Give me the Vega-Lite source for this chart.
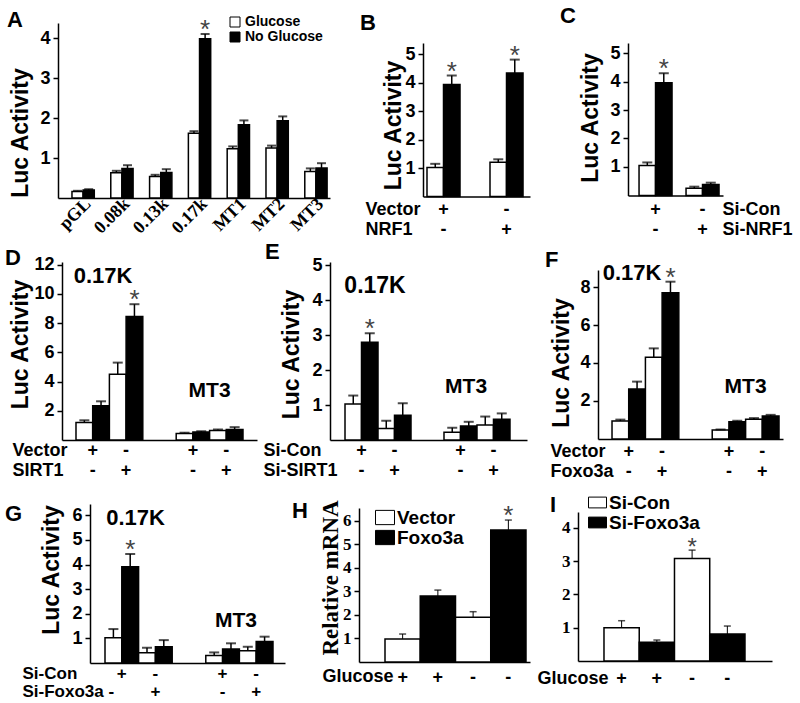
{
 "$schema": "https://vega.github.io/schema/vega-lite/v6.json",
 "padding": {"left": 5, "top": 5, "right": 0, "bottom": 0},
 "background": "white",
 "columns": 3,
 "align": "each",
 "bounds": "flush",
 "spacing": {"row": 64, "column": 0},
 "resolve": {"scale": {"fill": "independent", "x": "independent", "y": "independent", "xOffset": "independent"}, "legend": {"fill": "independent"}},
 "config": {
  "font": "Liberation Sans",
  "view": {"stroke": null},
  "axis": {"labelFont": "Liberation Sans", "titleFont": "Liberation Sans", "labelFontWeight": "bold", "titleFontWeight": "bold", "labelColor": "black", "titleColor": "black", "domainColor": "black", "tickColor": "black", "grid": false, "labelOverlap": false},
  "axisX": {"ticks": false, "domainWidth": 1.5, "labelAngle": 0, "labelFontSize": 18, "titleFontSize": 18, "labelBaseline": "alphabetic", "titleBaseline": "alphabetic", "titleAlign": "left", "titleAngle": 0, "labelLineHeight": 20, "titleLineHeight": 20, "labelOverlap": false},
  "axisY": {"tickSize": 5, "tickWidth": 1.5, "domainWidth": 1.5, "labelFontSize": 18, "labelPadding": 3, "titleFontSize": 23, "titleAngle": 270, "titleAlign": "center", "titleBaseline": "middle", "labelOverlap": false, "tickCount": 50},
  "title": {"font": "Liberation Sans", "fontSize": 22, "fontWeight": "bold", "anchor": "start", "frame": "group", "baseline": "alphabetic", "offset": 0, "color": "black"},
  "legend": {"labelFont": "Liberation Sans", "labelFontWeight": "bold", "labelColor": "black", "padding": 0, "symbolStrokeColor": "black", "symbolStrokeWidth": 1, "rowPadding": 0, "labelOffset": 3, "symbolOffset": 0, "orient": "none", "title": null}
 },
 "datasets": {
  "A": [
   {"p": "pGL", "g": "Glucose", "v": 0.16, "hi": 0.18, "s": ""},
   {"p": "pGL", "g": "No Glucose", "v": 0.2, "hi": 0.22, "s": ""},
   {"p": "0.08k", "g": "Glucose", "v": 0.63, "hi": 0.68, "s": ""},
   {"p": "0.08k", "g": "No Glucose", "v": 0.74, "hi": 0.82, "s": ""},
   {"p": "0.13k", "g": "Glucose", "v": 0.54, "hi": 0.58, "s": ""},
   {"p": "0.13k", "g": "No Glucose", "v": 0.64, "hi": 0.72, "s": ""},
   {"p": "0.17k", "g": "Glucose", "v": 1.62, "hi": 1.67, "s": ""},
   {"p": "0.17k", "g": "No Glucose", "v": 3.98, "hi": 4.1, "s": "*"},
   {"p": "MT1", "g": "Glucose", "v": 1.23, "hi": 1.29, "s": ""},
   {"p": "MT1", "g": "No Glucose", "v": 1.83, "hi": 1.94, "s": ""},
   {"p": "MT2", "g": "Glucose", "v": 1.25, "hi": 1.31, "s": ""},
   {"p": "MT2", "g": "No Glucose", "v": 1.93, "hi": 2.04, "s": ""},
   {"p": "MT3", "g": "Glucose", "v": 0.66, "hi": 0.74, "s": ""},
   {"p": "MT3", "g": "No Glucose", "v": 0.75, "hi": 0.87, "s": ""}
  ],
  "B": [
   {"p": "b1|+|-", "g": "Glucose", "v": 1.02, "hi": 1.15, "s": ""},
   {"p": "b1|+|-", "g": "No Glucose", "v": 3.94, "hi": 4.26, "s": "*"},
   {"p": "b2|-|+", "g": "Glucose", "v": 1.21, "hi": 1.31, "s": ""},
   {"p": "b2|-|+", "g": "No Glucose", "v": 4.35, "hi": 4.82, "s": "*"}
  ],
  "C": [
   {"p": "c1|+|-", "g": "Glucose", "v": 1.05, "hi": 1.16, "s": ""},
   {"p": "c1|+|-", "g": "No Glucose", "v": 3.96, "hi": 4.29, "s": "*"},
   {"p": "c2|-|+", "g": "Glucose", "v": 0.25, "hi": 0.31, "s": ""},
   {"p": "c2|-|+", "g": "No Glucose", "v": 0.39, "hi": 0.45, "s": ""}
  ],
  "D": [
   {"p": "d1|+|-", "g": "Glucose", "v": 1.2, "hi": 1.35, "s": ""},
   {"p": "d1|+|-", "g": "No Glucose", "v": 2.35, "hi": 2.65, "s": ""},
   {"p": "d2|-|+", "g": "Glucose", "v": 4.5, "hi": 5.3, "s": ""},
   {"p": "d2|-|+", "g": "No Glucose", "v": 8.45, "hi": 9.3, "s": "*"},
   {"p": "d3|+|-", "g": "Glucose", "v": 0.45, "hi": 0.5, "s": ""},
   {"p": "d3|+|-", "g": "No Glucose", "v": 0.55, "hi": 0.6, "s": ""},
   {"p": "d4|-|+", "g": "Glucose", "v": 0.65, "hi": 0.72, "s": ""},
   {"p": "d4|-|+", "g": "No Glucose", "v": 0.72, "hi": 0.88, "s": ""}
  ],
  "E": [
   {"p": "e1|+|-", "g": "Glucose", "v": 1.03, "hi": 1.27, "s": ""},
   {"p": "e1|+|-", "g": "No Glucose", "v": 2.79, "hi": 3.05, "s": "*"},
   {"p": "e2|-|+", "g": "Glucose", "v": 0.33, "hi": 0.55, "s": ""},
   {"p": "e2|-|+", "g": "No Glucose", "v": 0.71, "hi": 1.05, "s": ""},
   {"p": "e3|+|-", "g": "Glucose", "v": 0.22, "hi": 0.35, "s": ""},
   {"p": "e3|+|-", "g": "No Glucose", "v": 0.4, "hi": 0.52, "s": ""},
   {"p": "e4|-|+", "g": "Glucose", "v": 0.43, "hi": 0.67, "s": ""},
   {"p": "e4|-|+", "g": "No Glucose", "v": 0.59, "hi": 0.76, "s": ""}
  ],
  "F": [
   {"p": "f1|+|-", "g": "Glucose", "v": 0.95, "hi": 1.02, "s": ""},
   {"p": "f1|+|-", "g": "No Glucose", "v": 2.63, "hi": 3.02, "s": ""},
   {"p": "f2|-|+", "g": "Glucose", "v": 4.3, "hi": 4.77, "s": ""},
   {"p": "f2|-|+", "g": "No Glucose", "v": 7.7, "hi": 8.28, "s": "*"},
   {"p": "f3|+|-", "g": "Glucose", "v": 0.47, "hi": 0.5, "s": ""},
   {"p": "f3|+|-", "g": "No Glucose", "v": 0.91, "hi": 0.96, "s": ""},
   {"p": "f4|-|+", "g": "Glucose", "v": 1.04, "hi": 1.1, "s": ""},
   {"p": "f4|-|+", "g": "No Glucose", "v": 1.21, "hi": 1.27, "s": ""}
  ],
  "G": [
   {"p": "g1|+|", "g": "Glucose", "v": 1.03, "hi": 1.38, "s": ""},
   {"p": "g1|+|", "g": "No Glucose", "v": 3.91, "hi": 4.43, "s": "*"},
   {"p": "g2|-|+", "g": "Glucose", "v": 0.42, "hi": 0.62, "s": ""},
   {"p": "g2|-|+", "g": "No Glucose", "v": 0.66, "hi": 0.93, "s": ""},
   {"p": "g3|+|-", "g": "Glucose", "v": 0.3, "hi": 0.43, "s": ""},
   {"p": "g3|+|-", "g": "No Glucose", "v": 0.57, "hi": 0.8, "s": ""},
   {"p": "g4|-|+", "g": "Glucose", "v": 0.5, "hi": 0.66, "s": ""},
   {"p": "g4|-|+", "g": "No Glucose", "v": 0.87, "hi": 1.07, "s": ""}
  ],
  "H": [
   {"p": "h1|+", "g": "Vector", "v": 0.98, "hi": 1.19, "s": ""},
   {"p": "h2|+", "g": "Foxo3a", "v": 2.81, "hi": 3.06, "s": ""},
   {"p": "h3|-", "g": "Vector", "v": 1.9, "hi": 2.14, "s": ""},
   {"p": "h4|-", "g": "Foxo3a", "v": 5.62, "hi": 6.04, "s": "*"}
  ],
  "I": [
   {"p": "i1|+", "g": "Si-Con", "v": 1.0, "hi": 1.21, "s": ""},
   {"p": "i2|+", "g": "Si-Foxo3a", "v": 0.56, "hi": 0.63, "s": ""},
   {"p": "i3|-", "g": "Si-Con", "v": 3.08, "hi": 3.33, "s": "*"},
   {"p": "i4|-", "g": "Si-Foxo3a", "v": 0.81, "hi": 1.05, "s": ""}
  ]
 },
 "concat": [
  {
   "width": 272, "height": 175,
   "title": {"text": "A", "dx": -51, "dy": 21},
   "data": {"name": "A"},
   "encoding": {
    "x": {"field": "p", "type": "nominal", "sort": null,
     "scale": {"domain": ["pGL", "0.08k", "0.13k", "0.17k", "MT1", "MT2", "MT3"], "paddingInner": 0.425, "paddingOuter": 0.2175, "align": 0.828},
     "axis": {"title": null, "labelAngle": -45, "labelAlign": "right", "labelBaseline": "middle", "labelFont": "Liberation Serif", "labelFontSize": 18, "labelPadding": 3, "labelOffset": 5, "labelOverlap": false}},
    "xOffset": {"field": "g", "type": "nominal", "sort": null, "scale": {"domain": ["Glucose", "No Glucose"]}}
   },
   "layer": [
    {"mark": {"type": "bar", "stroke": "black", "strokeWidth": 1.5},
     "encoding": {
      "y": {"field": "v", "type": "quantitative", "scale": {"domain": [0, 4.375], "nice": false}, "axis": {"values": [1, 2, 3, 4], "format": "d", "tickCount": 50, "labelOverlap": false, "title": "Luc Activity", "titleX": -38, "titleY": 109.5}},
      "fill": {"field": "g", "type": "nominal", "scale": {"domain": ["Glucose", "No Glucose"], "range": ["white", "black"]},
       "legend": {"orient": "none", "legendX": 170, "legendY": -8, "symbolType": "square", "symbolSize": 100, "labelFontSize": 14, "rowPadding": 1, "symbolStrokeColor": "black", "symbolStrokeWidth": 1}}}},
    {"mark": {"type": "rule", "color": "black", "strokeWidth": 1.5},
     "encoding": {"y": {"field": "v", "type": "quantitative", "scale": {"domain": [0, 4.375], "nice": false}, "title": "Luc Activity"}, "y2": {"field": "hi"}}},
    {"mark": {"type": "tick", "color": "black", "thickness": 2, "size": 9},
     "encoding": {"y": {"field": "hi", "type": "quantitative", "scale": {"domain": [0, 4.375], "nice": false}, "title": "Luc Activity"}}},
    {"mark": {"type": "text", "baseline": "alphabetic", "fontSize": 26, "color": "#444", "dy": 4},
     "encoding": {"y": {"field": "hi", "type": "quantitative", "scale": {"domain": [0, 4.375], "nice": false}, "title": "Luc Activity"}, "text": {"field": "s"}}}
   ]
  },
  {
   "width": 248, "height": 175,
   "title": {"text": "B", "dx": 30, "dy": 16},
   "data": {"name": "B"},
   "encoding": {
    "x": {"field": "p", "type": "nominal", "sort": null,
     "scale": {"domain": ["s0", "b1|+|-", "b2|-|+"], "paddingInner": 0.476, "paddingOuter": 0.706, "align": 0.382},
     "axis": {"title": ["Vector", "NRF1"], "offset": -1.5, "titleX": 35, "titleY": 17.5, "labelPadding": 17.5, "labelExpr": "indexof(datum.value, '|') < 0 ? '' : slice(split(datum.value, '|'), 1)", "domainDash": [107, 2000], "domainDashOffset": -93}},
    "xOffset": {"field": "g", "type": "nominal", "sort": null, "scale": {"domain": ["Glucose", "No Glucose"]}}
   },
   "layer": [
    {"mark": {"type": "bar", "stroke": "black", "strokeWidth": 1.5},
     "encoding": {
      "y": {"field": "v", "type": "quantitative", "scale": {"domain": [-0.053, 6.109], "nice": false}, "axis": {"values": [1, 2, 3, 4, 5], "format": "d", "tickCount": 50, "labelOverlap": false, "title": "Luc Activity", "offset": -93, "titleX": -30, "titleY": 102, "domainDash": [153.5, 1000], "domainDashOffset": -1.5}},
      "fill": {"field": "g", "type": "nominal", "scale": {"domain": ["Glucose", "No Glucose"], "range": ["white", "black"]}, "legend": null}}},
    {"mark": {"type": "rule", "color": "black", "strokeWidth": 1.5},
     "encoding": {"y": {"field": "v", "type": "quantitative", "scale": {"domain": [-0.053, 6.109], "nice": false}, "title": "Luc Activity"}, "y2": {"field": "hi"}}},
    {"mark": {"type": "tick", "color": "black", "thickness": 2, "size": 10},
     "encoding": {"y": {"field": "hi", "type": "quantitative", "scale": {"domain": [-0.053, 6.109], "nice": false}, "title": "Luc Activity"}}},
    {"mark": {"type": "text", "baseline": "alphabetic", "fontSize": 26, "color": "#444", "dy": 4},
     "encoding": {"y": {"field": "hi", "type": "quantitative", "scale": {"domain": [-0.053, 6.109], "nice": false}, "title": "Luc Activity"}, "text": {"field": "s"}}}
   ]
  },
  {
   "width": 205, "height": 175,
   "title": {"text": "C", "dx": -18, "dy": 9},
   "data": {"name": "C"},
   "encoding": {
    "x": {"field": "p", "type": "nominal", "sort": null,
     "scale": {"domain": ["s0", "c1|+|-", "c2|-|+"], "paddingInner": 0.298, "paddingOuter": 0.83, "align": 0.18},
     "axis": {"title": ["Si-Con", "Si-NRF1"], "offset": -2.5, "titleX": 144, "titleY": 18.5, "labelPadding": 18.5, "labelExpr": "indexof(datum.value, '|') < 0 ? '' : slice(split(datum.value, '|'), 1)", "domainDash": [95, 2000], "domainDashOffset": -50}},
    "xOffset": {"field": "g", "type": "nominal", "sort": null, "scale": {"domain": ["Glucose", "No Glucose"]}}
   },
   "layer": [
    {"mark": {"type": "bar", "stroke": "black", "strokeWidth": 1.5},
     "encoding": {
      "y": {"field": "v", "type": "quantitative", "scale": {"domain": [-0.088, 6.053], "nice": false}, "axis": {"values": [1, 2, 3, 4, 5], "format": "d", "tickCount": 50, "labelOverlap": false, "title": "Luc Activity", "offset": -50, "titleX": -38, "titleY": 94.5, "domainDash": [152.5, 1000], "domainDashOffset": -2.5}},
      "fill": {"field": "g", "type": "nominal", "scale": {"domain": ["Glucose", "No Glucose"], "range": ["white", "black"]}, "legend": null}}},
    {"mark": {"type": "rule", "color": "black", "strokeWidth": 1.5},
     "encoding": {"y": {"field": "v", "type": "quantitative", "scale": {"domain": [-0.088, 6.053], "nice": false}, "title": "Luc Activity"}, "y2": {"field": "hi"}}},
    {"mark": {"type": "tick", "color": "black", "thickness": 2, "size": 10},
     "encoding": {"y": {"field": "hi", "type": "quantitative", "scale": {"domain": [-0.088, 6.053], "nice": false}, "title": "Luc Activity"}}},
    {"mark": {"type": "text", "baseline": "alphabetic", "fontSize": 26, "color": "#444", "dy": 4},
     "encoding": {"y": {"field": "hi", "type": "quantitative", "scale": {"domain": [-0.088, 6.053], "nice": false}, "title": "Luc Activity"}, "text": {"field": "s"}}}
   ]
  },
  {
   "width": 272, "height": 178,
   "title": {"text": "D", "dx": -53, "dy": 18},
   "data": {"name": "D"},
   "layer": [
    {
     "encoding": {
      "x": {"field": "p", "type": "nominal", "sort": null,
       "scale": {"domain": ["d1|+|-", "d2|-|+", "gap", "d3|+|-", "d4|-|+", "s1", "s2"], "paddingInner": 0, "paddingOuter": 0.572, "align": 0.471},
       "axis": {"title": ["Vector", "SIRT1"], "titleX": -46, "titleY": 15, "labelPadding": 15, "labelExpr": "indexof(datum.value, '|') < 0 ? '' : slice(split(datum.value, '|'), 1)", "domainDash": [195, 2000], "domainDashOffset": -4}},
      "xOffset": {"field": "g", "type": "nominal", "sort": null, "scale": {"domain": ["Glucose", "No Glucose"]}}
     },
     "layer": [
      {"mark": {"type": "bar", "stroke": "black", "strokeWidth": 1.5},
       "encoding": {
        "y": {"field": "v", "type": "quantitative", "scale": {"domain": [0, 12.19], "nice": false}, "axis": {"values": [2, 4, 6, 8, 10, 12], "format": "d", "tickCount": 50, "labelOverlap": false, "title": "Luc Activity", "offset": -4, "titleX": -42, "titleY": 82}},
        "fill": {"field": "g", "type": "nominal", "scale": {"domain": ["Glucose", "No Glucose"], "range": ["white", "black"]}, "legend": null}}},
      {"mark": {"type": "rule", "color": "black", "strokeWidth": 1.5},
       "encoding": {"y": {"field": "v", "type": "quantitative", "scale": {"domain": [0, 12.19], "nice": false}, "title": "Luc Activity"}, "y2": {"field": "hi"}}},
      {"mark": {"type": "tick", "color": "black", "thickness": 2, "size": 10},
       "encoding": {"y": {"field": "hi", "type": "quantitative", "scale": {"domain": [0, 12.19], "nice": false}, "title": "Luc Activity"}}},
      {"mark": {"type": "text", "baseline": "alphabetic", "fontSize": 26, "color": "#444", "dy": 4},
       "encoding": {"y": {"field": "hi", "type": "quantitative", "scale": {"domain": [0, 12.19], "nice": false}, "title": "Luc Activity"}, "text": {"field": "s"}}}
     ]
    },
    {"data": {"values": [{"t": "0.17K"}]},
     "mark": {"type": "text", "fontSize": 22, "fontWeight": "bold", "baseline": "alphabetic", "align": "center"},
     "encoding": {"x": {"datum": "d1|+|-", "bandPosition": 0.81}, "y": {"datum": 10.75, "scale": {"domain": [0, 12.19], "nice": false}}, "text": {"field": "t"}}},
    {"data": {"values": [{"t": "MT3"}]},
     "mark": {"type": "text", "fontSize": 21, "fontWeight": "bold", "baseline": "alphabetic", "align": "center"},
     "encoding": {"x": {"datum": "d3|+|-", "bandPosition": 1}, "y": {"datum": 2.95, "scale": {"domain": [0, 12.19], "nice": false}}, "text": {"field": "t"}}}
   ]
  },
  {
   "width": 248, "height": 178,
   "title": {"text": "E", "dx": -65, "dy": 12},
   "data": {"name": "E"},
   "layer": [
    {
     "encoding": {
      "x": {"field": "p", "type": "nominal", "sort": null,
       "scale": {"domain": ["e1|+|-", "e2|-|+", "gap", "e3|+|-", "e4|-|+", "s1"], "paddingInner": 0, "paddingOuter": 0.758, "align": 0.3},
       "axis": {"title": ["Si-Con", "Si-SIRT1"], "titleX": -67, "titleY": 15, "labelPadding": 15, "labelExpr": "indexof(datum.value, '|') < 0 ? '' : slice(split(datum.value, '|'), 1)", "domainDash": [197, 2000]}},
      "xOffset": {"field": "g", "type": "nominal", "sort": null, "scale": {"domain": ["Glucose", "No Glucose"]}}
     },
     "layer": [
      {"mark": {"type": "bar", "stroke": "black", "strokeWidth": 1.5},
       "encoding": {
        "y": {"field": "v", "type": "quantitative", "scale": {"domain": [0, 5.086], "nice": false}, "axis": {"values": [1, 2, 3, 4, 5], "format": "d", "tickCount": 50, "labelOverlap": false, "title": "Luc Activity", "titleX": -39, "titleY": 92}},
        "fill": {"field": "g", "type": "nominal", "scale": {"domain": ["Glucose", "No Glucose"], "range": ["white", "black"]}, "legend": null}}},
      {"mark": {"type": "rule", "color": "black", "strokeWidth": 1.5},
       "encoding": {"y": {"field": "v", "type": "quantitative", "scale": {"domain": [0, 5.086], "nice": false}, "title": "Luc Activity"}, "y2": {"field": "hi"}}},
      {"mark": {"type": "tick", "color": "black", "thickness": 2, "size": 10},
       "encoding": {"y": {"field": "hi", "type": "quantitative", "scale": {"domain": [0, 5.086], "nice": false}, "title": "Luc Activity"}}},
      {"mark": {"type": "text", "baseline": "alphabetic", "fontSize": 26, "color": "#444", "dy": 4},
       "encoding": {"y": {"field": "hi", "type": "quantitative", "scale": {"domain": [0, 5.086], "nice": false}, "title": "Luc Activity"}, "text": {"field": "s"}}}
     ]
    },
    {"data": {"values": [{"t": "0.17K"}]},
     "mark": {"type": "text", "fontSize": 23, "fontWeight": "bold", "baseline": "alphabetic", "align": "center"},
     "encoding": {"x": {"datum": "e1|+|-", "bandPosition": 0.91}, "y": {"datum": 4.2, "scale": {"domain": [0, 5.086], "nice": false}}, "text": {"field": "t"}}},
    {"data": {"values": [{"t": "MT3"}]},
     "mark": {"type": "text", "fontSize": 21, "fontWeight": "bold", "baseline": "alphabetic", "align": "center"},
     "encoding": {"x": {"datum": "e3|+|-", "bandPosition": 0.67}, "y": {"datum": 1.34, "scale": {"domain": [0, 5.086], "nice": false}}, "text": {"field": "t"}}}
   ]
  },
  {
   "width": 205, "height": 178,
   "title": {"text": "F", "dx": -33, "dy": 14.5},
   "data": {"name": "F"},
   "layer": [
    {
     "encoding": {
      "x": {"field": "p", "type": "nominal", "sort": null,
       "scale": {"domain": ["f1|+|-", "f2|-|+", "gap", "f3|+|-", "f4|-|+"], "paddingInner": 0, "paddingOuter": 0.569, "align": 0.895},
       "axis": {"title": ["Vector", "Foxo3a"], "offset": -1, "titleX": -28, "titleY": 17, "labelPadding": 17, "labelExpr": "indexof(datum.value, '|') < 0 ? '' : slice(split(datum.value, '|'), 1)", "domainDash": [185, 2000], "domainDashOffset": -20}},
      "xOffset": {"field": "g", "type": "nominal", "sort": null, "scale": {"domain": ["Glucose", "No Glucose"]}}
     },
     "layer": [
      {"mark": {"type": "bar", "stroke": "black", "strokeWidth": 1.5},
       "encoding": {
        "y": {"field": "v", "type": "quantitative", "scale": {"domain": [-0.053, 9.316], "nice": false}, "axis": {"values": [2, 4, 6, 8], "format": "d", "tickCount": 50, "labelOverlap": false, "title": "Luc Activity", "offset": -20, "titleX": -37, "titleY": 100.5, "domainDash": [169, 1000], "domainDashOffset": -1}},
        "fill": {"field": "g", "type": "nominal", "scale": {"domain": ["Glucose", "No Glucose"], "range": ["white", "black"]}, "legend": null}}},
      {"mark": {"type": "rule", "color": "black", "strokeWidth": 1.5},
       "encoding": {"y": {"field": "v", "type": "quantitative", "scale": {"domain": [-0.053, 9.316], "nice": false}, "title": "Luc Activity"}, "y2": {"field": "hi"}}},
      {"mark": {"type": "tick", "color": "black", "thickness": 2, "size": 10},
       "encoding": {"y": {"field": "hi", "type": "quantitative", "scale": {"domain": [-0.053, 9.316], "nice": false}, "title": "Luc Activity"}}},
      {"mark": {"type": "text", "baseline": "alphabetic", "fontSize": 26, "color": "#444", "dy": 4},
       "encoding": {"y": {"field": "hi", "type": "quantitative", "scale": {"domain": [-0.053, 9.316], "nice": false}, "title": "Luc Activity"}, "text": {"field": "s"}}}
     ]
    },
    {"data": {"values": [{"t": "0.17K"}]},
     "mark": {"type": "text", "fontSize": 22, "fontWeight": "bold", "baseline": "alphabetic", "align": "center"},
     "encoding": {"x": {"datum": "f1|+|-", "bandPosition": 0.6}, "y": {"datum": 8.37, "scale": {"domain": [-0.053, 9.316], "nice": false}}, "text": {"field": "t"}}},
    {"data": {"values": [{"t": "MT3"}]},
     "mark": {"type": "text", "fontSize": 21, "fontWeight": "bold", "baseline": "alphabetic", "align": "center"},
     "encoding": {"x": {"datum": "f3|+|-", "bandPosition": 1}, "y": {"datum": 2.42, "scale": {"domain": [-0.053, 9.316], "nice": false}}, "text": {"field": "t"}}}
   ]
  },
  {
   "width": 272, "height": 159,
   "title": {"text": "G", "dx": -53, "dy": 26},
   "data": {"name": "G"},
   "layer": [
    {
     "encoding": {
      "x": {"field": "p", "type": "nominal", "sort": null,
       "scale": {"domain": ["s0", "g1|+|", "g2|-|+", "gap", "g3|+|-", "g4|-|+", "s1"], "paddingInner": 0, "paddingOuter": 0.548, "align": 0.364},
       "axis": {"title": ["Si-Con", "Si-Foxo3a -"], "titleX": -36, "titleY": 15, "labelPadding": 15, "titleFontSize": 17, "labelFontSize": 17, "titleLineHeight": 18, "labelLineHeight": 18, "labelExpr": "indexof(datum.value, '|') < 0 ? '' : slice(split(datum.value, '|'), 1)", "domainDash": [195, 2000], "domainDashOffset": -32}},
      "xOffset": {"field": "g", "type": "nominal", "sort": null, "scale": {"domain": ["Glucose", "No Glucose"]}}
     },
     "layer": [
      {"mark": {"type": "bar", "stroke": "black", "strokeWidth": 1.5},
       "encoding": {
        "y": {"field": "v", "type": "quantitative", "scale": {"domain": [0, 6.463], "nice": false}, "axis": {"values": [1, 2, 3, 4, 5, 6], "format": "d", "tickCount": 50, "labelOverlap": false, "title": "Luc Activity", "offset": -32, "titleX": -38.5, "titleY": 65.5}},
        "fill": {"field": "g", "type": "nominal", "scale": {"domain": ["Glucose", "No Glucose"], "range": ["white", "black"]}, "legend": null}}},
      {"mark": {"type": "rule", "color": "black", "strokeWidth": 1.5},
       "encoding": {"y": {"field": "v", "type": "quantitative", "scale": {"domain": [0, 6.463], "nice": false}, "title": "Luc Activity"}, "y2": {"field": "hi"}}},
      {"mark": {"type": "tick", "color": "black", "thickness": 2, "size": 10},
       "encoding": {"y": {"field": "hi", "type": "quantitative", "scale": {"domain": [0, 6.463], "nice": false}, "title": "Luc Activity"}}},
      {"mark": {"type": "text", "baseline": "alphabetic", "fontSize": 26, "color": "#444", "dy": 4},
       "encoding": {"y": {"field": "hi", "type": "quantitative", "scale": {"domain": [0, 6.463], "nice": false}, "title": "Luc Activity"}, "text": {"field": "s"}}}
     ]
    },
    {"data": {"values": [{"t": "0.17K"}]},
     "mark": {"type": "text", "fontSize": 22, "fontWeight": "bold", "baseline": "alphabetic", "align": "center"},
     "encoding": {"x": {"datum": "g1|+|", "bandPosition": 0.91}, "y": {"datum": 5.6, "scale": {"domain": [0, 6.463], "nice": false}}, "text": {"field": "t"}}},
    {"data": {"values": [{"t": "MT3"}]},
     "mark": {"type": "text", "fontSize": 21, "fontWeight": "bold", "baseline": "alphabetic", "align": "center"},
     "encoding": {"x": {"datum": "g3|+|-", "bandPosition": 0.9}, "y": {"datum": 1.46, "scale": {"domain": [0, 6.463], "nice": false}}, "text": {"field": "t"}}}
   ]
  },
  {
   "width": 248, "height": 159,
   "title": {"text": "H", "dx": -38, "dy": 27},
   "data": {"name": "H"},
   "encoding": {
    "x": {"field": "p", "type": "nominal", "sort": null,
     "scale": {"domain": ["s0", "h1|+", "h2|+", "h3|-", "h4|-", "s1"], "paddingInner": 0, "paddingOuter": 0.518, "align": 0.541},
     "axis": {"title": "Glucose", "offset": -1, "titleX": -8, "titleY": 19, "labelPadding": 20, "labelExpr": "indexof(datum.value, '|') < 0 ? '' : slice(split(datum.value, '|'), 1)", "domainDash": [171, 2000], "domainDashOffset": -29}}
   },
   "layer": [
    {"mark": {"type": "bar", "stroke": "black", "strokeWidth": 1.5},
     "encoding": {
      "y": {"field": "v", "type": "quantitative", "scale": {"domain": [-0.043, 6.723], "nice": false}, "axis": {"values": [1, 2, 3, 4, 5, 6], "format": "d", "tickCount": 50, "labelOverlap": false, "title": "Relative mRNA", "offset": -29, "labelFont": "Liberation Serif", "labelFontSize": 17, "titleFont": "Liberation Serif", "titleX": -28.5, "titleY": 73.5, "domainDash": [154, 1000], "domainDashOffset": -1}},
      "fill": {"field": "g", "type": "nominal", "scale": {"domain": ["Vector", "Foxo3a"], "range": ["white", "black"]},
       "legend": {"orient": "none", "legendX": 45, "legendY": 3.5, "symbolType": "M-1,-0.75H1V0.75H-1Z", "symbolSize": 361, "labelFontSize": 19, "symbolStrokeColor": "black", "symbolStrokeWidth": 1, "labelOffset": 2}}}},
    {"mark": {"type": "rule", "color": "black", "strokeWidth": 1},
     "encoding": {"y": {"field": "v", "type": "quantitative", "scale": {"domain": [-0.043, 6.723], "nice": false}, "title": "Relative mRNA"}, "y2": {"field": "hi"}}},
    {"mark": {"type": "tick", "color": "black", "thickness": 1.5, "size": 7},
     "encoding": {"y": {"field": "hi", "type": "quantitative", "scale": {"domain": [-0.043, 6.723], "nice": false}, "title": "Relative mRNA"}}},
    {"mark": {"type": "text", "baseline": "alphabetic", "fontSize": 26, "color": "#444", "dy": 4},
     "encoding": {"y": {"field": "hi", "type": "quantitative", "scale": {"domain": [-0.043, 6.723], "nice": false}, "title": "Relative mRNA"}, "text": {"field": "s"}}}
   ]
  },
  {
   "width": 205, "height": 159,
   "title": {"text": "I", "dx": -28, "dy": 28},
   "data": {"name": "I"},
   "encoding": {
    "x": {"field": "p", "type": "nominal", "sort": null,
     "scale": {"domain": ["i1|+", "i2|+", "i3|-", "i4|-"], "paddingInner": 0, "paddingOuter": 0.908, "align": 0.406},
     "axis": {"title": "Glucose", "offset": -2, "titleX": -41, "titleY": 22, "labelPadding": 22, "labelExpr": "indexof(datum.value, '|') < 0 ? '' : slice(split(datum.value, '|'), 1)", "domainDash": [194, 2000]}}
   },
   "layer": [
    {"mark": {"type": "bar", "stroke": "black", "strokeWidth": 1.5},
     "encoding": {
      "y": {"field": "v", "type": "quantitative", "scale": {"domain": [-0.06, 4.715], "nice": false}, "axis": {"values": [1, 2, 3, 4], "format": "d", "tickCount": 50, "labelOverlap": false, "title": null, "labelFont": "Liberation Serif", "labelFontSize": 17, "domainDash": [149, 1000], "domainDashOffset": -2}},
      "fill": {"field": "g", "type": "nominal", "scale": {"domain": ["Si-Con", "Si-Foxo3a"], "range": ["white", "black"]},
       "legend": {"orient": "none", "legendX": 10, "legendY": -11, "symbolType": "M-1,-0.6H1V0.6H-1Z", "symbolSize": 324, "labelFontSize": 19, "symbolStrokeColor": "black", "symbolStrokeWidth": 1, "labelOffset": 2}}}},
    {"mark": {"type": "rule", "color": "black", "strokeWidth": 1},
     "encoding": {"y": {"field": "v", "type": "quantitative", "scale": {"domain": [-0.06, 4.715], "nice": false}, "title": null}, "y2": {"field": "hi"}}},
    {"mark": {"type": "tick", "color": "black", "thickness": 1.5, "size": 7},
     "encoding": {"y": {"field": "hi", "type": "quantitative", "scale": {"domain": [-0.06, 4.715], "nice": false}, "title": null}}},
    {"mark": {"type": "text", "baseline": "alphabetic", "fontSize": 24, "color": "#444", "dy": 5},
     "encoding": {"y": {"field": "hi", "type": "quantitative", "scale": {"domain": [-0.06, 4.715], "nice": false}, "title": null}, "text": {"field": "s"}}}
   ]
  }
 ]
}
